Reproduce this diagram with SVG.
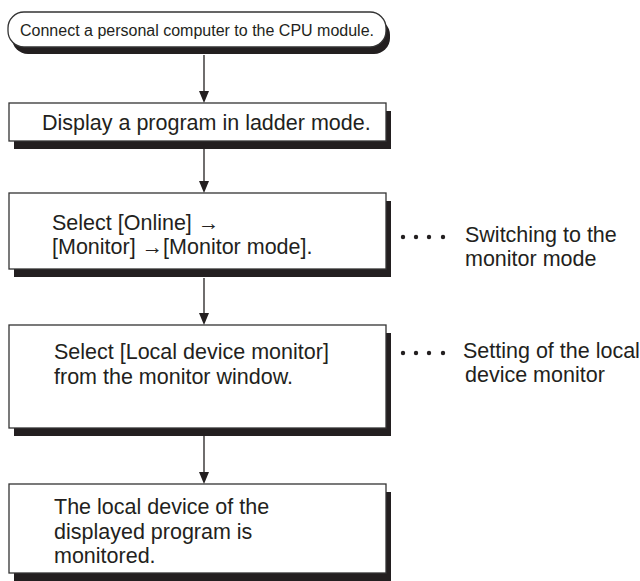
<svg xmlns="http://www.w3.org/2000/svg" width="640" height="581" viewBox="0 0 640 581">
<defs>
<style>
.box{fill:#fff;stroke:#333;stroke-width:1.3}
.sh{fill:#231f20}
.t{font-family:"Liberation Sans",Arial,sans-serif;font-size:21.5px;fill:#231f20}
.t1{font-family:"Liberation Sans",Arial,sans-serif;font-size:16px;fill:#231f20}
.c{stroke:#231f20;stroke-width:1.3;fill:none}
.dot{fill:#231f20}
</style>
</defs>
<rect width="640" height="581" fill="#fff"/>
<g id="connectors">
<line class="c" x1="204" y1="55" x2="204" y2="91"/>
<path d="M199,91 L209,91 L204,103 Z" class="dot"/>
<line class="c" x1="204" y1="149" x2="204" y2="181"/>
<path d="M199,181 L209,181 L204,193 Z" class="dot"/>
<line class="c" x1="204" y1="278" x2="204" y2="313"/>
<path d="M199,313 L209,313 L204,325 Z" class="dot"/>
<line class="c" x1="204" y1="436" x2="204" y2="472"/>
<path d="M199,472 L209,472 L204,484 Z" class="dot"/>
</g>
<g id="n1">
<rect class="sh" x="12" y="19" width="378" height="35" rx="16"/>
<rect class="box" x="8" y="12" width="378" height="35" rx="16"/>
<text class="t1" x="20" y="36">Connect a personal computer to the CPU module.</text>
</g>
<g id="n2">
<rect class="sh" x="14" y="111" width="377" height="38"/>
<rect class="box" x="9" y="103" width="377" height="38"/>
<text class="t" x="42" y="130">Display a program in ladder mode.</text>
</g>
<g id="n3">
<rect class="sh" x="14" y="201" width="377" height="76"/>
<rect class="box" x="9" y="193" width="377" height="76"/>
<text class="t" x="52" y="230">Select [Online] →</text>
<text class="t" x="52" y="254">[Monitor] →[Monitor mode].</text>
</g>
<g id="n4">
<rect class="sh" x="14" y="333" width="377" height="103"/>
<rect class="box" x="9" y="325" width="377" height="103"/>
<text class="t" x="54" y="359">Select [Local device monitor]</text>
<text class="t" x="54" y="384">from the monitor window.</text>
</g>
<g id="n5">
<rect class="sh" x="14" y="492" width="377" height="89"/>
<rect class="box" x="9" y="484" width="377" height="89"/>
<text class="t" x="54" y="514">The local device of the</text>
<text class="t" x="54" y="539">displayed program is</text>
<text class="t" x="54" y="563">monitored.</text>
</g>
<g id="note1">
<circle class="dot" cx="403" cy="237" r="2.2"/>
<circle class="dot" cx="416" cy="237" r="2.2"/>
<circle class="dot" cx="429" cy="237" r="2.2"/>
<circle class="dot" cx="443" cy="237" r="2.2"/>
<text class="t" x="465" y="242">Switching to the</text>
<text class="t" x="465" y="266">monitor mode</text>
</g>
<g id="note2">
<circle class="dot" cx="403" cy="353" r="2.2"/>
<circle class="dot" cx="416" cy="353" r="2.2"/>
<circle class="dot" cx="429" cy="353" r="2.2"/>
<circle class="dot" cx="443" cy="353" r="2.2"/>
<text class="t" x="463" y="358">Setting of the local</text>
<text class="t" x="465" y="382">device monitor</text>
</g>
</svg>
